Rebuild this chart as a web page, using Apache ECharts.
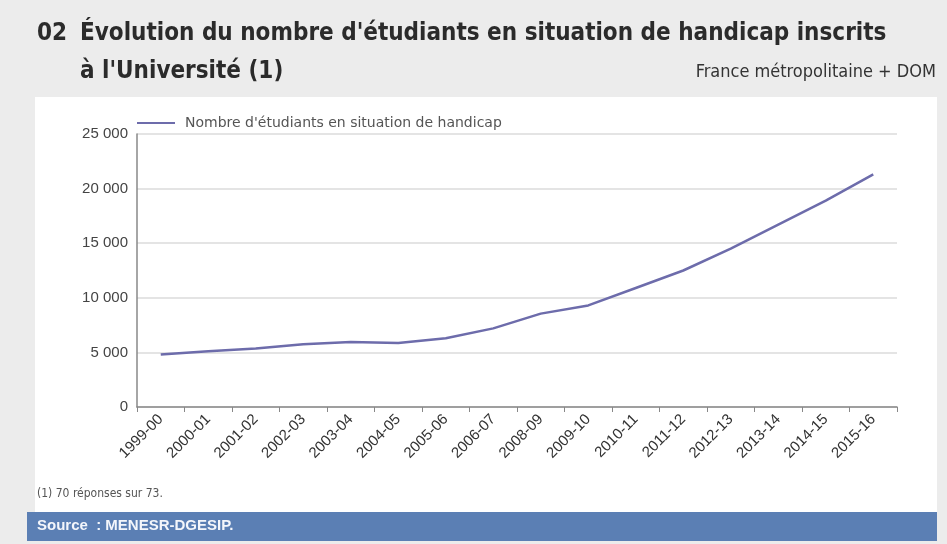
<!DOCTYPE html>
<html><head><meta charset="utf-8">
<script src="https://cdn.jsdelivr.net/npm/echarts@6/dist/echarts.min.js"></script>
<style>html,body{margin:0;padding:0;background:#ececec;}#c{width:947px;height:544px;}</style>
</head><body><div id="c"></div>
<script>
var categories = ['1999-00','2000-01','2001-02','2002-03','2003-04','2004-05','2005-06','2006-07','2008-09','2009-10','2010-11','2011-12','2012-13','2013-14','2014-15','2015-16'];
var students = [4800,5100,5350,5750,5950,5850,6300,7200,8550,9300,10900,12500,14500,16700,18900,21300];
var yTicks = [0,5000,10000,15000,20000,25000];
var seriesName = "Nombre d'étudiants en situation de handicap";

var FN = '"DejaVu Sans Condensed","Liberation Sans",sans-serif';
var FA = '"Liberation Sans",Arial,sans-serif';
var chart = echarts.init(document.getElementById('c'));
chart.setOption({
  backgroundColor: '#ececec',
  animation: false,
  graphic: [
    {type:'rect', left:35, top:97, shape:{width:902, height:420}, style:{fill:'#ffffff'}, z:-10},
    {type:'rect', left:27, top:512, shape:{width:910, height:29}, style:{fill:'#5b7fb4'}, z:-5},
    {type:'text', left:37, top:488, style:{text:'(1) 70 réponses sur 73.', fill:'#555', font:'12px '+FN}},
    {type:'text', left:37, top:518, style:{text:'Source  : MENESR-DGESIP.', fill:'#f4f6fb', font:'bold 15px '+FA}}
  ],
  title: [
    {text:'02', left:32, top:17, textStyle:{fontFamily:FN, fontSize:24, fontWeight:'bold', color:'#2b2b2b'}},
    {text:"Évolution du nombre d'étudiants en situation de handicap inscrits", left:75, top:17, textStyle:{fontFamily:FN, fontSize:24, fontWeight:'bold', color:'#2b2b2b'}},
    {text:"à l'Université (1)", left:75, top:55, textStyle:{fontFamily:FN, fontSize:24, fontWeight:'bold', color:'#2b2b2b'}},
    {text:'France métropolitaine + DOM', right:6, top:58, textStyle:{fontFamily:FN, fontSize:18, fontWeight:'normal', color:'#333'}}
  ],
  legend: {
    left:132, top:111, itemWidth:38, itemHeight:2, icon:'rect', itemGap:10,
    textStyle:{fontFamily:'"DejaVu Sans",sans-serif', fontSize:14, color:'#555', padding:[0,0,0,5]},
    data:[seriesName]
  },
  grid: {left:137, right:50, top:134, bottom:137, containLabel:false},
  xAxis: {
    type:'category', data:categories, boundaryGap:true,
    axisLine:{lineStyle:{color:'#888', width:1.5}},
    axisTick:{show:true, alignWithLabel:false, length:5, lineStyle:{color:'#888'}},
    axisLabel:{interval:0, rotate:45, fontFamily:FA, fontSize:15, color:'#333', margin:10}
  },
  yAxis: {
    type:'value', min:yTicks[0], max:yTicks[yTicks.length-1], interval:5000,
    axisLine:{show:true, lineStyle:{color:'#888', width:1.5}},
    axisTick:{show:false},
    axisLabel:{fontFamily:FA, fontSize:15, color:'#444', margin:9,
      formatter:function(v){return String(v).replace(/\B(?=(\d{3})+(?!\d))/g,' ');}},
    splitLine:{show:true, lineStyle:{color:'#e4e4e4', width:2}}
  },
  series: [{
    name: seriesName, type:'line', data:students, showSymbol:false, symbol:'none',
    smooth:false, lineStyle:{color:'#6d6cab', width:2.5}, itemStyle:{color:'#6d6cab'}
  }]
});
</script></body></html>
